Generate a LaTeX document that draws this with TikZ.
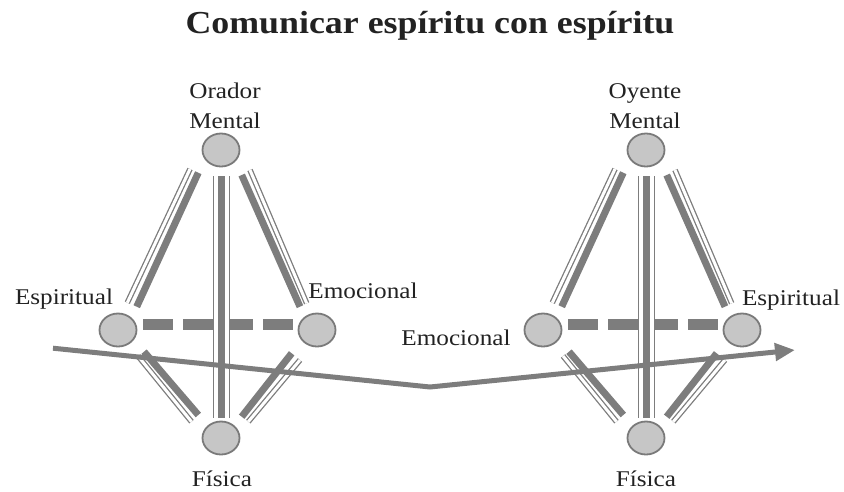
\documentclass[tikz,border=0pt]{standalone}
\usepackage{fontspec}
\setmainfont[FakeStretch=1.12]{Liberation Serif}
\usetikzlibrary{arrows.meta,shapes.geometric}
\definecolor{lgray}{HTML}{7D7D7D}
\definecolor{bgray}{HTML}{7A7A7A}
\definecolor{bfill}{HTML}{C6C6C6}
\definecolor{txt}{HTML}{222222}
\tikzset{
  thickln/.style={draw=lgray, line width=7pt},
  dblln/.style={draw=lgray, double=white, double distance=3pt, line width=1.3pt},
  vdbl/.style={draw=lgray, double=white, double distance=14.5pt, line width=1.6pt},
  dashln/.style={draw=lgray, line width=11pt, dash pattern=on 30pt off 10pt},
  ball/.style={ellipse, draw=bgray, fill=bfill, line width=1.8pt, minimum width=37pt, minimum height=33pt, inner sep=0pt},
  lbl/.style={font=\fontsize{22.5}{24}\selectfont, text=txt, anchor=base, inner sep=0pt},
  arrowln/.style={draw=lgray, line width=5pt, line join=miter, -{Triangle[length=20pt,width=17pt]}}
}
\begin{document}
\begin{tikzpicture}[x=1pt,y=-1pt]
\useasboundingbox (0,0) rectangle (844,491);
\node[anchor=base, inner sep=0pt, text=txt, font=\fontsize{32}{36}\selectfont\bfseries] (title) at (430,33) {Comunicar espíritu con espíritu};

\foreach \p/\dx in {L/0,R/425}{
\begin{scope}[xshift=\dx]
  % endpoints
  \coordinate (\p-a1) at (198.3,172.7); \coordinate (\p-a2) at (136.7,306.7);
  \coordinate (\p-b1) at (190,169);     \coordinate (\p-b2) at (127.3,302.7);
  \coordinate (\p-c1) at (241.7,175);   \coordinate (\p-c2) at (300,306.7);
  \coordinate (\p-d1) at (250,170);     \coordinate (\p-d2) at (306.7,303.3);
  \coordinate (\p-v1) at (221.5,176);   \coordinate (\p-v2) at (221.5,418);
  \coordinate (\p-h1) at (143,324);     \coordinate (\p-h2) at (294,324);
  \coordinate (\p-e1) at (144,351.7);   \coordinate (\p-e2) at (198.3,415);
  \coordinate (\p-f1) at (138,356);     \coordinate (\p-f2) at (191.5,421.7);
  \coordinate (\p-g1) at (291.7,353.3); \coordinate (\p-g2) at (241.7,416.7);
  \coordinate (\p-k1) at (300,360);     \coordinate (\p-k2) at (248.3,421.7);
  % connectors
  \draw[dashln] (\p-h1) -- (\p-h2);
  \draw[dblln] (\p-b1) -- (\p-b2);
  \draw[thickln] (\p-a1) -- (\p-a2);
  \draw[dblln] (\p-d1) -- (\p-d2);
  \draw[thickln] (\p-c1) -- (\p-c2);
  \draw[dblln] (\p-f1) -- (\p-f2);
  \draw[thickln] (\p-e1) -- (\p-e2);
  \draw[dblln] (\p-k1) -- (\p-k2);
  \draw[thickln] (\p-g1) -- (\p-g2);
  \draw[vdbl] (\p-v1) -- (\p-v2);
  \draw[thickln] (\p-v1) -- (\p-v2);
  % circles
  \node[ball] (\p-M) at (221,150) {};
  \node[ball] (\p-S) at (118,330) {};
  \node[ball] (\p-E) at (317,330) {};
  \node[ball] (\p-F) at (221,438) {};
\end{scope}}

% labels
\node[lbl] (lorador) at (225,98) {Orador};
\node[lbl] (lmental) at (225,128) {Mental};
\node[lbl] (lespir) at (64,304) {Espiritual};
\node[lbl] (lemoc) at (363,298) {Emocional};
\node[lbl] (lfis) at (222,486) {Física};
\node[lbl] (royente) at (645,98) {Oyente};
\node[lbl] (rmental) at (645,128) {Mental};
\node[lbl] (remoc) at (456,345) {Emocional};
\node[lbl] (respir) at (791,305) {Espiritual};
\node[lbl] (rfis) at (646,486) {Física};

% arrow
\coordinate (arrS) at (53,348.2);
\coordinate (arrV) at (430,387);
\coordinate (arrE) at (795,350);
\draw[arrowln] (arrS) -- (arrV) -- (arrE);
\end{tikzpicture}
\end{document}
